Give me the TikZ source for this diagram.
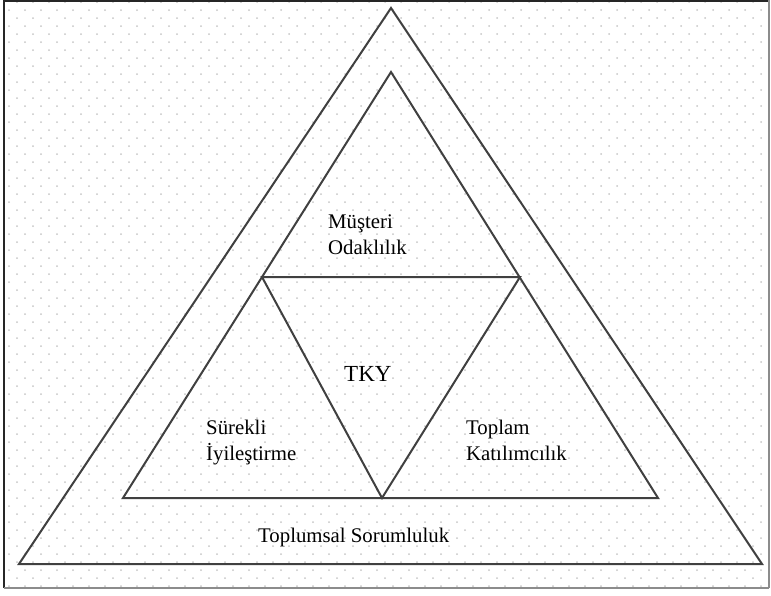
\documentclass[tikz,border=0pt]{standalone}
\usepackage{fontspec}
\setmainfont{Liberation Serif}
\begin{document}
\begin{tikzpicture}[x=1pt,y=-1pt,
  edge/.style={line width=2pt, draw=black!75, line join=miter},
  lbl/.style={anchor=base west, inner sep=0pt,
    font=\fontsize{20.8}{26}\selectfont, text=black}]
\useasboundingbox (0,0) rectangle (771,595);
\fill[white] (0,0) rectangle (771,595);

% dotted paper background
\begin{scope}
\clip (4,1) rectangle (769,588);
\foreach \r in {0,...,73} {
  \pgfmathsetmacro\yy{2+8*\r}
  \pgfmathsetmacro\xo{mod(\r,2)==0 ? 1 : 9}
  \foreach \c in {0,...,48} {
    \fill[black!22] (\xo+16*\c,\yy) circle (1);
  }
}
\end{scope}

% frame
\draw[black!85, line width=1.5pt] (4,0.75) -- (769,0.75);
\draw[black!85, line width=1.5pt] (4,0) -- (4,588);
\draw[black!45, line width=1.5pt] (4,588) -- (769,588);
\draw[black!45, line width=1.2pt] (769,0) -- (769,588);

% vertices
\coordinate (oA) at (391,8);
\coordinate (oB) at (19,564);
\coordinate (oC) at (762,564);
\coordinate (iA) at (391,72);
\coordinate (iB) at (123,498);
\coordinate (iC) at (658,498);
\coordinate (mL) at (262,277);
\coordinate (mR) at (520,277);
\coordinate (mB) at (382,498);

% triangles
\draw[edge] (oA) -- (oB) -- (oC) -- cycle;
\draw[edge] (iA) -- (iB) -- (iC) -- cycle;
\draw[edge] (mL) -- (mR) -- (mB) -- cycle;

% labels, one node per line
\node[lbl] (musteri1) at (328,228) {Müşteri};
\node[lbl] (musteri2) at (328,254) {Odaklılık};
\node[lbl, font=\fontsize{23}{26}\selectfont] (tky) at (344,381) {TKY};
\node[lbl] (surekli1) at (206,434) {Sürekli};
\node[lbl] (surekli2) at (206,460) {İyileştirme};
\node[lbl] (toplam1) at (466,434) {Toplam};
\node[lbl] (toplam2) at (466,460) {Katılımcılık};
\node[lbl] (toplumsal) at (258,542) {Toplumsal Sorumluluk};
\end{tikzpicture}
\end{document}
